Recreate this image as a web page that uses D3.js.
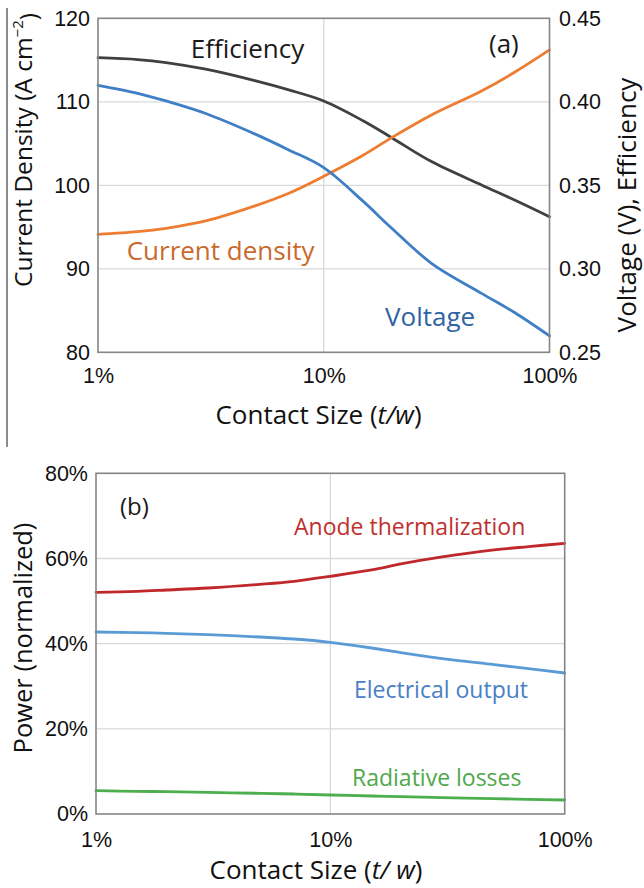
<!DOCTYPE html>
<html>
<head>
<meta charset="utf-8">
<script src="https://cdn.jsdelivr.net/npm/d3@7"></script>
<style>
  html, body { margin: 0; padding: 0; background: #fff; }
  svg { display: block; font-family: "Open Sans", "DejaVu Sans", sans-serif; }
</style>
</head>
<body>
<svg id="chart" width="644" height="888"></svg>
<script>
// contact size t/w in percent
const contactSize = [1, 1.5, 2, 3, 5, 7, 10, 15, 20, 30, 50, 70, 100];

// panel (a)
const currentDensity = [94.13, 94.45, 94.85, 95.73, 97.56, 99.04, 101.08, 103.63, 105.71, 108.42, 111.30, 113.53, 116.21];
const voltage = [0.4099, 0.4051, 0.4005, 0.3930, 0.3805, 0.3712, 0.3606, 0.3402, 0.3243, 0.3033, 0.2853, 0.2738, 0.2598];
const efficiency = [0.4264, 0.4253, 0.4235, 0.4195, 0.4125, 0.4071, 0.4005, 0.3885, 0.3785, 0.3642, 0.3502, 0.3412, 0.3312];
const leftTicksA = [80, 90, 100, 110, 120];
const rightTicksA = [0.25, 0.30, 0.35, 0.40, 0.45];

// panel (b), percent of input power
const anodeThermal = [52.05, 52.29, 52.60, 53.07, 53.93, 54.64, 55.81, 57.30, 58.71, 60.35, 62.00, 62.78, 63.56];
const electricalOutput = [42.74, 42.58, 42.43, 42.11, 41.56, 41.09, 40.31, 38.98, 37.88, 36.47, 35.07, 34.13, 33.11];
const radiativeLosses = [5.48, 5.32, 5.24, 5.09, 4.85, 4.70, 4.46, 4.23, 4.07, 3.83, 3.60, 3.44, 3.29];
const yTicksB = [0, 20, 40, 60, 80];

const xTicks = [1, 10, 100];

const svg = d3.select("#chart");
const tickFont = 21.5;
const gridColor = "#d9d9d9";
const frameColor = "#858585";

// thin rule down the left edge of panel (a)
svg.append("line")
  .attr("x1", 7).attr("x2", 7).attr("y1", 8).attr("y2", 447)
  .attr("stroke", "#666").attr("stroke-width", 1.5);

function styleTicks(g) {
  g.select(".domain").remove();
  g.selectAll("text")
    .attr("fill", "#111")
    .style("font-size", tickFont + "px");
}

function drawLine(g, x, y, values, color) {
  const line = d3.line()
    .x((d, i) => x(contactSize[i]))
    .y(d => y(d))
    .curve(d3.curveCatmullRom.alpha(0.5));
  g.append("path")
    .datum(values)
    .attr("d", line)
    .attr("fill", "none")
    .attr("stroke", color)
    .attr("stroke-width", 2.8)
    .attr("stroke-linecap", "round");
}

function label(g, x, y, text, color, size) {
  g.append("text")
    .attr("x", x).attr("y", y)
    .attr("fill", color)
    .style("font-size", size + "px")
    .text(text);
}

// ---------- panel (a) ----------
const a = { left: 98, right: 549.5, top: 18.3, bottom: 352.3 };
const xA = d3.scaleLog().domain([1, 100]).range([a.left, a.right]);
const yLeftA = d3.scaleLinear().domain([80, 120]).range([a.bottom, a.top]);
const yRightA = d3.scaleLinear().domain([0.25, 0.45]).range([a.bottom, a.top]);

const gA = svg.append("g");

gA.append("g").selectAll("line")
  .data(leftTicksA.slice(1, -1))
  .join("line")
  .attr("x1", a.left).attr("x2", a.right)
  .attr("y1", d => yLeftA(d)).attr("y2", d => yLeftA(d))
  .attr("stroke", gridColor).attr("stroke-width", 1.3);
gA.append("line")
  .attr("x1", xA(10)).attr("x2", xA(10))
  .attr("y1", a.top).attr("y2", a.bottom)
  .attr("stroke", gridColor).attr("stroke-width", 1.3);

drawLine(gA, xA, yRightA, efficiency, "#404040");
drawLine(gA, xA, yLeftA, currentDensity, "#ed7d31");
drawLine(gA, xA, yRightA, voltage, "#3f7fc6");

gA.append("rect")
  .attr("x", a.left).attr("y", a.top)
  .attr("width", a.right - a.left).attr("height", a.bottom - a.top)
  .attr("fill", "none").attr("stroke", frameColor).attr("stroke-width", 1.6);

gA.append("g")
  .attr("transform", `translate(${a.left},0)`)
  .call(d3.axisLeft(yLeftA).tickValues(leftTicksA).tickSize(0).tickPadding(8))
  .call(styleTicks);
gA.append("g")
  .attr("transform", `translate(${a.right},0)`)
  .call(d3.axisRight(yRightA).tickValues(rightTicksA).tickSize(0).tickPadding(9.5)
    .tickFormat(d3.format(".2f")))
  .call(styleTicks);
gA.append("g")
  .attr("transform", `translate(0,${a.bottom})`)
  .call(d3.axisBottom(xA).tickValues(xTicks).tickSize(0).tickPadding(15)
    .tickFormat(d => d + "%"))
  .call(styleTicks);

label(gA, 190.7, 58.3, "Efficiency", "#1a1a1a", 26);
label(gA, 126.7, 260, "Current density", "#c96a2c", 26);
label(gA, 385, 325.7, "Voltage", "#2f63a3", 26);
label(gA, 489, 53, "(a)", "#1a1a1a", 26);

const titleA = gA.append("text")
  .attr("transform", "translate(31.5,150) rotate(-90)")
  .attr("text-anchor", "middle")
  .attr("fill", "#111")
  .style("font-size", "24.5px");
titleA.append("tspan").text("Current Density (A cm");
titleA.append("tspan").attr("dy", "-0.55em").style("font-size", "15px").text("\u22122");
titleA.append("tspan").attr("dy", "0.55em").text(")");

gA.append("text")
  .attr("transform", "translate(636,205) rotate(-90)")
  .attr("text-anchor", "middle")
  .attr("fill", "#111")
  .style("font-size", "26px")
  .text("Voltage (V), Efficiency");

const xTitleA = gA.append("text")
  .attr("x", 318.5).attr("y", 424)
  .attr("text-anchor", "middle")
  .attr("fill", "#111")
  .style("font-size", "26px");
xTitleA.append("tspan").text("Contact Size (");
xTitleA.append("tspan").style("font-style", "italic").text("t/w");
xTitleA.append("tspan").text(")");

// ---------- panel (b) ----------
const b = { left: 96, right: 564.7, top: 473.3, bottom: 814 };
const xB = d3.scaleLog().domain([1, 100]).range([b.left, b.right]);
const yB = d3.scaleLinear().domain([0, 80]).range([b.bottom, b.top]);

const gB = svg.append("g");

gB.append("g").selectAll("line")
  .data(yTicksB.slice(1, -1))
  .join("line")
  .attr("x1", b.left).attr("x2", b.right)
  .attr("y1", d => yB(d)).attr("y2", d => yB(d))
  .attr("stroke", gridColor).attr("stroke-width", 1.3);
gB.append("line")
  .attr("x1", xB(10)).attr("x2", xB(10))
  .attr("y1", b.top).attr("y2", b.bottom)
  .attr("stroke", gridColor).attr("stroke-width", 1.3);

drawLine(gB, xB, yB, anodeThermal, "#c0282c");
drawLine(gB, xB, yB, electricalOutput, "#5b9bd5");
drawLine(gB, xB, yB, radiativeLosses, "#4cae4c");

gB.append("rect")
  .attr("x", b.left).attr("y", b.top)
  .attr("width", b.right - b.left).attr("height", b.bottom - b.top)
  .attr("fill", "none").attr("stroke", frameColor).attr("stroke-width", 1.6);

gB.append("g")
  .attr("transform", `translate(${b.left},0)`)
  .call(d3.axisLeft(yB).tickValues(yTicksB).tickSize(0).tickPadding(8)
    .tickFormat(d => d + "%"))
  .call(styleTicks);
gB.append("g")
  .attr("transform", `translate(0,${b.bottom})`)
  .call(d3.axisBottom(xB).tickValues(xTicks).tickSize(0).tickPadding(17.4)
    .tickFormat(d => d + "%"))
  .call(styleTicks);

label(gB, 120, 514.7, "(b)", "#1a1a1a", 24);
label(gB, 294, 534.7, "Anode thermalization", "#c0302f", 23);
label(gB, 354, 698, "Electrical output", "#4a80c4", 23);
label(gB, 352, 786.3, "Radiative losses", "#4fa94b", 23);

gB.append("text")
  .attr("transform", "translate(31.5,638) rotate(-90)")
  .attr("text-anchor", "middle")
  .attr("fill", "#111")
  .style("font-size", "25.5px")
  .text("Power (normalized)");

const xTitleB = gB.append("text")
  .attr("x", 316).attr("y", 879)
  .attr("text-anchor", "middle")
  .attr("fill", "#111")
  .style("font-size", "26px");
xTitleB.append("tspan").text("Contact Size (");
xTitleB.append("tspan").style("font-style", "italic").text("t/ w");
xTitleB.append("tspan").text(")");
</script>
</body>
</html>
